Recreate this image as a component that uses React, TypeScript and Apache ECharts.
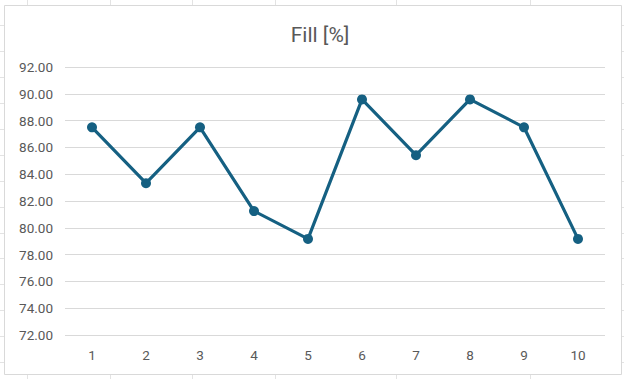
import React, { useEffect, useRef } from "react";
import * as echarts from "echarts";

const categories = ["1", "2", "3", "4", "5", "6", "7", "8", "9", "10"];
const fillValues = [87.5, 83.33, 87.5, 81.25, 79.17, 89.58, 85.42, 89.58, 87.5, 79.17];
const yMin = 72;
const yMax = 92;
const yStep = 2;

const sheetColumnsX = [27, 110, 192, 275, 396, 530];
const sheetRowsY = [25, 51, 77, 103, 129, 155, 181, 207, 233, 258, 284, 310, 336, 362];

export default function App() {
  const ref = useRef<HTMLDivElement>(null);

  useEffect(() => {
    if (!ref.current) return;
    const chart = echarts.init(ref.current, undefined, { renderer: "svg" });
    const sheetLines: any[] = [];
    sheetColumnsX.forEach((x) =>
      sheetLines.push({
        type: "line",
        z: -10,
        shape: { x1: x + 0.5, y1: 0, x2: x + 0.5, y2: 379 },
        style: { stroke: "#e3e3e3", lineWidth: 1 },
      })
    );
    sheetRowsY.forEach((y) =>
      sheetLines.push({
        type: "line",
        z: -10,
        shape: { x1: 0, y1: y + 0.5, x2: 624, y2: y + 0.5 },
        style: { stroke: "#e3e3e3", lineWidth: 1 },
      })
    );
    chart.setOption({
      animation: false,
      backgroundColor: "#ffffff",
      title: {
        text: "Fill [%]",
        left: 315,
        textAlign: "center",
        top: 19,
        textStyle: {
          fontFamily: "Roboto",
          fontSize: 21,
          fontWeight: "normal",
          color: "#595959",
        },
      },
      graphic: [
        ...sheetLines,
        {
          type: "rect",
          z: -5,
          shape: { x: 4.5, y: 5.5, width: 617, height: 369 },
          style: { fill: "#ffffff", stroke: "#d9d9d9", lineWidth: 1 },
        },
      ],
      grid: { left: 65, right: 19, top: 67, bottom: 44 },
      xAxis: {
        type: "category",
        data: categories,
        boundaryGap: true,
        axisLine: { show: false },
        axisTick: { show: false },
        axisLabel: {
          color: "#595959",
          fontFamily: "Roboto",
          fontSize: 13.5,
          margin: 13,
        },
      },
      yAxis: {
        type: "value",
        min: yMin,
        max: yMax,
        interval: yStep,
        axisLine: { show: false },
        axisTick: { show: false },
        splitLine: { lineStyle: { color: "#d9d9d9", width: 1 } },
        axisLabel: {
          color: "#595959",
          fontFamily: "Roboto",
          fontSize: 13.5,
          margin: 12,
          formatter: (v: number) => v.toFixed(2),
        },
      },
      series: [
        {
          type: "line",
          data: fillValues,
          symbol: "circle",
          symbolSize: 10,
          lineStyle: { color: "#156082", width: 3.2 },
          itemStyle: { color: "#156082" },
        },
      ],
    });
    return () => chart.dispose();
  }, []);

  return (
    <div
      ref={ref}
      style={{ position: "fixed", left: 0, top: 0, width: 624, height: 379 }}
    />
  );
}
